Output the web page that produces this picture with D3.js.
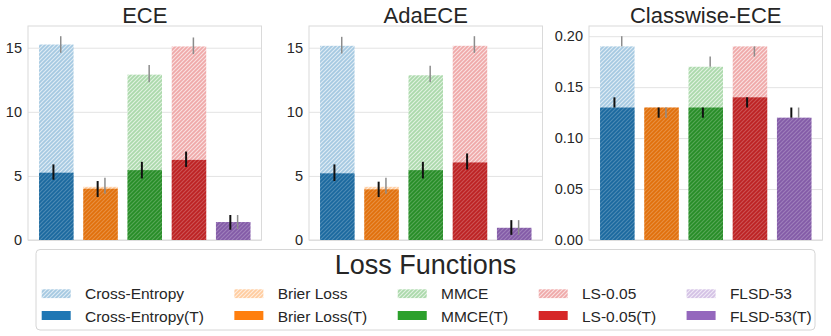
<!DOCTYPE html>
<html>
<head>
<meta charset="utf-8">
<script src="https://cdn.jsdelivr.net/npm/d3@7"></script>
<style>
  body { margin: 0; background: #fff; }
  text { font-family: "Liberation Sans", Arial, sans-serif; fill: #262626; }
</style>
</head>
<body>
<div id="chart"></div>
<script>
var lossNames = ["Cross-Entropy", "Brier Loss", "MMCE", "LS-0.05", "FLSD-53"];
var lossColors = ["#1f77b4", "#ff7f0e", "#2ca02c", "#d62728", "#9467bd"];
var metricNames = ["ECE", "AdaECE", "Classwise-ECE"];

// before temperature scaling (hatched, light) and after (T)
var eceBefore   = [15.25, 4.15, 12.9, 15.1, 1.4];
var eceBeforeLo = [14.6, 3.6, 12.3, 14.5, 0.85];
var eceBeforeHi = [15.9, 4.85, 13.65, 15.8, 1.95];
var eceAfter    = [5.25, 4.0, 5.45, 6.25, 1.4];
var eceAfterLo  = [4.7, 3.35, 4.8, 5.7, 0.8];
var eceAfterHi  = [5.9, 4.6, 6.1, 6.9, 1.95];

var adaBefore   = [15.15, 4.15, 12.85, 15.15, 0.95];
var adaBeforeLo = [14.55, 3.6, 12.3, 14.6, 0.4];
var adaBeforeHi = [15.85, 4.85, 13.6, 15.9, 1.55];
var adaAfter    = [5.2, 3.95, 5.45, 6.05, 0.95];
var adaAfterLo  = [4.6, 3.35, 4.8, 5.5, 0.4];
var adaAfterHi  = [5.9, 4.55, 6.1, 6.75, 1.55];

var cwBefore   = [0.19, 0.13, 0.17, 0.19, 0.12];
var cwBeforeLo = [0.19, 0.12, 0.17, 0.18, 0.12];
var cwBeforeHi = [0.20, 0.13, 0.18, 0.19, 0.13];
var cwAfter    = [0.13, 0.13, 0.13, 0.14, 0.12];
var cwAfterLo  = [0.13, 0.12, 0.12, 0.13, 0.12];
var cwAfterHi  = [0.14, 0.13, 0.13, 0.14, 0.13];

var panels = [
  { before: eceBefore, bLo: eceBeforeLo, bHi: eceBeforeHi, after: eceAfter, aLo: eceAfterLo, aHi: eceAfterHi, fmt: "d", n: 4 },
  { before: adaBefore, bLo: adaBeforeLo, bHi: adaBeforeHi, after: adaAfter, aLo: adaAfterLo, aHi: adaAfterHi, fmt: "d", n: 4 },
  { before: cwBefore, bLo: cwBeforeLo, bHi: cwBeforeHi, after: cwAfter, aLo: cwAfterLo, aHi: cwAfterHi, fmt: ".2f", n: 5 }
];

var W = 831, H = 336;
var svg = d3.select("#chart").append("svg").attr("width", W).attr("height", H);
var defs = svg.append("defs");

// hatch patterns, one light + one dark per colour
lossColors.forEach(function (c, i) {
  var p = defs.append("pattern").attr("id", "light" + i)
    .attr("patternUnits", "userSpaceOnUse").attr("width", 4).attr("height", 4);
  p.append("rect").attr("width", 4).attr("height", 4).attr("fill", "#fff");
  p.append("rect").attr("width", 4).attr("height", 4).attr("fill", c).attr("fill-opacity", 0.4);
  p.append("path").attr("d", "M-1,1 l2,-2 M0,4 l4,-4 M3,5 l2,-2")
    .attr("stroke", "#fff").attr("stroke-opacity", 0.65).attr("stroke-width", 1.1);

  var q = defs.append("pattern").attr("id", "dark" + i)
    .attr("patternUnits", "userSpaceOnUse").attr("width", 4).attr("height", 4);
  q.append("rect").attr("width", 4).attr("height", 4).attr("fill", d3.color(c).darker(0.35));
  q.append("path").attr("d", "M-1,1 l2,-2 M0,4 l4,-4 M3,5 l2,-2")
    .attr("stroke", "#fff").attr("stroke-opacity", 0.22).attr("stroke-width", 1.1);
});

var plotLefts = [28, 309, 589];
var plotW = 233.5, plotTop = 26, plotBottom = 240;
var idx = d3.range(lossNames.length);

panels.forEach(function (p, k) {
  var g = svg.append("g");
  var x = d3.scaleLinear().domain([-0.64, 4.64]).range([plotLefts[k], plotLefts[k] + plotW]);
  var y = d3.scaleLinear().domain([0, d3.max(p.bHi.concat(p.aHi)) * 1.05]).range([plotBottom, plotTop]);
  var bw = x(0.78) - x(0);

  // grid
  var yAxis = d3.axisLeft(y).ticks(p.n, p.fmt).tickSize(-plotW).tickPadding(6);
  var ax = g.append("g").attr("transform", "translate(" + plotLefts[k] + ",0)").call(yAxis);
  ax.select(".domain").remove();
  ax.selectAll(".tick line").attr("stroke", "#e3e3e3").attr("stroke-width", 1);
  ax.selectAll(".tick text").attr("font-size", 14.5).attr("fill", "#262626")
    .style("font-family", "'Liberation Sans', Arial, sans-serif");

  g.append("rect").attr("x", plotLefts[k]).attr("y", plotTop).attr("width", plotW)
    .attr("height", plotBottom - plotTop).attr("fill", "none").attr("stroke", "#dadada");

  g.selectAll(".bb").data(idx).enter().append("rect")
    .attr("x", function (i) { return x(i) - bw / 2; })
    .attr("width", bw)
    .attr("y", function (i) { return y(p.before[i]); })
    .attr("height", function (i) { return y(0) - y(p.before[i]); })
    .attr("fill", function (i) { return "url(#light" + i + ")"; });

  g.selectAll(".ab").data(idx).enter().append("rect")
    .attr("x", function (i) { return x(i) - bw / 2; })
    .attr("width", bw)
    .attr("y", function (i) { return y(p.after[i]); })
    .attr("height", function (i) { return y(0) - y(p.after[i]); })
    .attr("fill", function (i) { return "url(#dark" + i + ")"; });

  // error bars
  g.selectAll(".be").data(idx).enter().append("line")
    .attr("x1", function (i) { return x(i + 0.1); })
    .attr("x2", function (i) { return x(i + 0.1); })
    .attr("y1", function (i) { return y(p.bLo[i]); })
    .attr("y2", function (i) { return y(p.bHi[i]); })
    .attr("stroke", "#8c8c8c").attr("stroke-width", 1.5);

  g.selectAll(".ae").data(idx).enter().append("line")
    .attr("x1", function (i) { return x(i - 0.065); })
    .attr("x2", function (i) { return x(i - 0.065); })
    .attr("y1", function (i) { return y(p.aLo[i]); })
    .attr("y2", function (i) { return y(p.aHi[i]); })
    .attr("stroke", "#111").attr("stroke-width", 2);

  g.append("text").attr("x", plotLefts[k] + plotW / 2).attr("y", 22.5)
    .attr("text-anchor", "middle").attr("font-size", 22).text(metricNames[k]);
});

// legend
var lg = svg.append("g");
lg.append("rect").attr("x", 36).attr("y", 249.5).attr("width", 779).attr("height", 80.5)
  .attr("rx", 4).attr("fill", "#fff").attr("stroke", "#d6d6d6");
lg.append("text").attr("x", 425.5).attr("y", 274.3).attr("text-anchor", "middle")
  .attr("font-size", 27).text("Loss Functions");

var colX = 41.7;
lossNames.forEach(function (name, i) {
  lg.append("rect").attr("x", colX).attr("y", 289.3).attr("width", 29).attr("height", 8.8)
    .attr("fill", "url(#light" + i + ")");
  lg.append("rect").attr("x", colX).attr("y", 311).attr("width", 29).attr("height", 9)
    .attr("fill", lossColors[i]);
  var t1 = lg.append("text").attr("x", colX + 43.3).attr("y", 299.2).attr("font-size", 15.5).text(name);
  var t2 = lg.append("text").attr("x", colX + 43.3).attr("y", 321.5).attr("font-size", 15.5).text(name + "(T)");
  var w = Math.max(t1.node().getComputedTextLength(), t2.node().getComputedTextLength());
  colX = colX + 43.3 + w + 30.5;
});
</script>
</body>
</html>
